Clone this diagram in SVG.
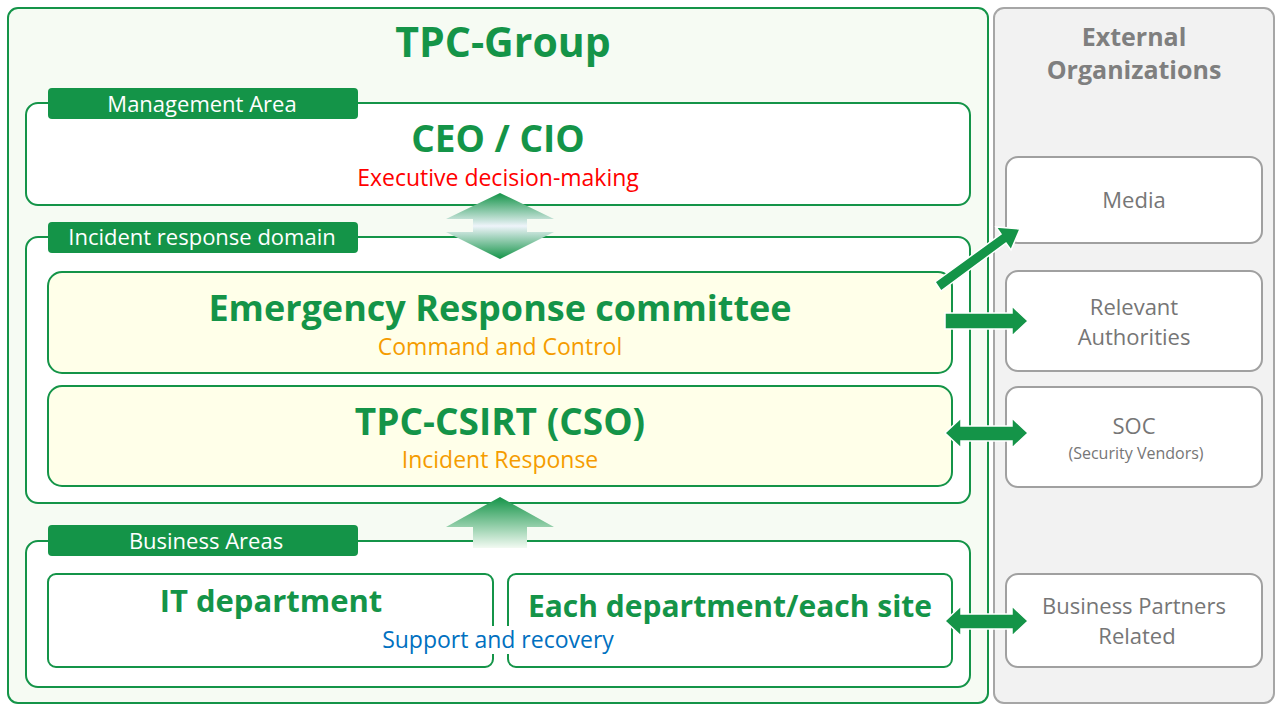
<svg xmlns="http://www.w3.org/2000/svg" width="1283" height="709" viewBox="0 0 1283 709">
<defs>
<style>
.g{fill:#ffffff;stroke:#149448;stroke-width:2}
.y{fill:#ffffe9;stroke:#149448;stroke-width:2}
.tab{fill:#149448}
.tt{font-family:"Open Sans","Noto Sans",sans-serif;font-size:22px;fill:#fff;text-anchor:middle}
.h{font-family:"Open Sans","Noto Sans",sans-serif;font-weight:bold;fill:#149448;text-anchor:middle}
.s{font-family:"Open Sans","Noto Sans",sans-serif;font-size:22px;text-anchor:middle}
.ext{fill:#fff;stroke:#a0a0a0;stroke-width:2}
.et{font-family:"Open Sans","Noto Sans",sans-serif;font-size:22px;fill:#767676;text-anchor:middle}
.arr{fill:#149448;stroke:#fff;stroke-width:1.5}
</style>
<linearGradient id="dg" x1="0" y1="0" x2="0" y2="1">
<stop offset="0" stop-color="#149448"/><stop offset="0.5" stop-color="#eef4fa"/><stop offset="1" stop-color="#149448"/>
</linearGradient>
<linearGradient id="ug" x1="0" y1="0" x2="0" y2="1">
<stop offset="0" stop-color="#149448"/><stop offset="1" stop-color="#f2faf2"/>
</linearGradient>
</defs>
<rect width="1283" height="709" fill="#fff"/>
<g id="tpc-group">
<rect x="8" y="8" width="980" height="695" rx="10" fill="#f6fbf3" stroke="#149448" stroke-width="2"/>
<text class="h" x="503" y="57" style="font-size:41px">TPC-Group</text>
</g>
<g id="external">
<rect x="994" y="8" width="280" height="695" rx="10" fill="#f2f2f2" stroke="#a6a6a6" stroke-width="2"/>
<text x="1134" y="46" font-family="Open Sans,Noto Sans,sans-serif" font-weight="bold" font-size="25" fill="#7f7f7f" text-anchor="middle">External</text>
<text x="1134" y="79" font-family="Open Sans,Noto Sans,sans-serif" font-weight="bold" font-size="25" fill="#7f7f7f" text-anchor="middle">Organizations</text>
</g>
<g id="management">
<rect class="g" x="26" y="103" width="944" height="102" rx="12"/>
<rect class="tab" x="48" y="88" width="310" height="31" rx="4"/>
<text class="tt" x="202" y="112">Management Area</text>
<text class="h" x="498" y="152" style="font-size:37px">CEO / CIO</text>
<text class="s" x="498" y="186" fill="#ff0000" style="font-size:23px">Executive decision-making</text>
</g>
<g id="incident">
<rect class="g" x="26" y="237" width="944" height="266" rx="12"/>
<rect class="tab" x="48" y="222" width="310" height="31" rx="4"/>
<text class="tt" x="202" y="245">Incident response domain</text>
</g>
<g id="erc">
<rect class="y" x="48" y="272" width="904" height="101" rx="14"/>
<text class="h" x="500" y="321" style="font-size:36px">Emergency Response committee</text>
<text class="s" x="500" y="355" fill="#f59c00" style="font-size:23px">Command and Control</text>
</g>
<g id="csirt">
<rect class="y" x="48" y="386" width="904" height="100" rx="14"/>
<text class="h" x="500" y="435" style="font-size:37px">TPC-CSIRT (CSO)</text>
<text class="s" x="500" y="468" fill="#f59c00" style="font-size:23px">Incident Response</text>
</g>
<g id="business">
<rect class="g" x="26" y="541" width="944" height="146" rx="12"/>
<rect class="tab" x="48" y="525" width="310" height="31" rx="4"/>
<text class="tt" x="206" y="549">Business Areas</text>
</g>
<g id="it">
<rect class="g" x="48" y="574" width="445" height="93" rx="8"/>
<text class="h" x="271" y="612" style="font-size:31px">IT department</text>
</g>
<g id="each">
<rect class="g" x="508" y="574" width="444" height="93" rx="8"/>
<text class="h" x="730" y="617" style="font-size:30px">Each department/each site</text>
</g>
<g id="support">
<rect x="374" y="626" width="248" height="28" fill="#fff"/>
<text class="s" x="498" y="648" fill="#0070c0" style="font-size:23px">Support and recovery</text>
</g>
<g id="media"><rect class="ext" x="1006" y="157" width="256" height="86" rx="12"/><text class="et" x="1134" y="208">Media</text></g>
<g id="authorities"><rect class="ext" x="1006" y="271" width="256" height="100" rx="12"/><text class="et" x="1134" y="315">Relevant</text><text class="et" x="1134" y="345">Authorities</text></g>
<g id="soc"><rect class="ext" x="1006" y="387" width="256" height="100" rx="12"/><text class="et" x="1134" y="434">SOC</text><text class="et" x="1136" y="459" style="font-size:16px">(Security Vendors)</text></g>
<g id="partners"><rect class="ext" x="1006" y="574" width="256" height="93" rx="12"/><text class="et" x="1134" y="614">Business Partners</text><text class="et" x="1137" y="644">Related</text></g>
<g id="connectors">
<path d="M500 193 L554 219 L527 219 L527 232 L554 232 L500 259 L446 232 L473 232 L473 219 L446 219 Z" fill="url(#dg)"/>
<path d="M500 497 L554 527 L527 527 L527 548 L473 548 L473 527 L446 527 Z" fill="url(#ug)"/>
<path class="arr" d="M935 282 L1001 234 L996 227 L1020 229 L1011 250 L1006 243 L941 291 Z"/>
<path class="arr" d="M945 313 L1012 313 L1012 306 L1028 321 L1012 336 L1012 329 L945 329 Z"/>
<path class="arr" d="M945 433 L961 418 L961 426 L1012 426 L1012 418 L1028 433 L1012 448 L1012 441 L961 441 L961 448 Z"/>
<path class="arr" d="M945 621 L961 606 L961 614 L1012 614 L1012 606 L1028 621 L1012 636 L1012 629 L961 629 L961 636 Z"/>
</g>
</svg>
